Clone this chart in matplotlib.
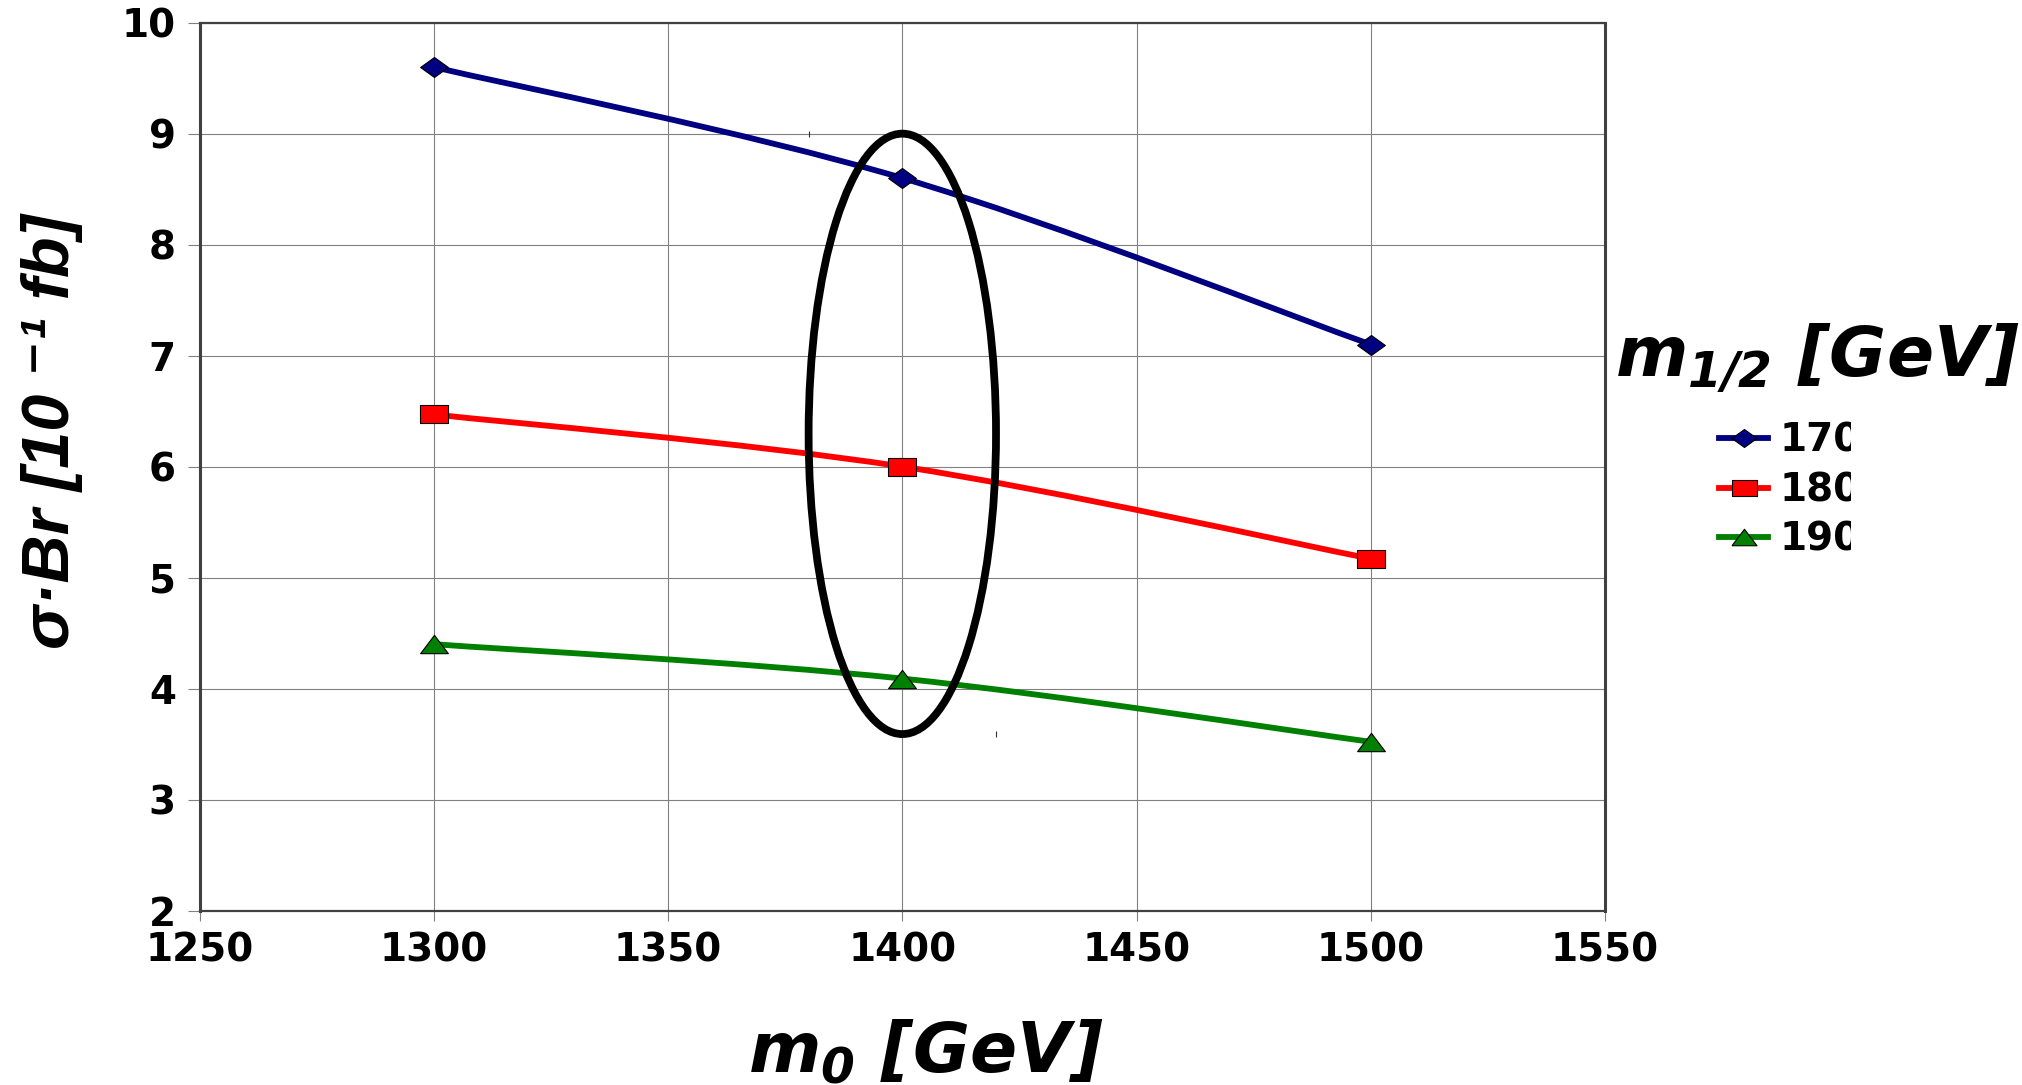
import numpy as np
import matplotlib
matplotlib.use('Agg')
import matplotlib.pyplot as plt
from matplotlib.path import Path
from matplotlib.patches import PathPatch, Ellipse
from matplotlib.lines import Line2D
from matplotlib.transforms import Bbox, TransformedBbox

# data
m0 = [1300, 1400, 1500]
m_half = ['170', '180', '190']
sigma_170 = [9.6, 8.6, 7.1]
sigma_180 = [6.47, 6.0, 5.17]
sigma_190 = [4.4, 4.09, 3.52]
x_ticks = [1250, 1300, 1350, 1400, 1450, 1500, 1550]
y_ticks = [2, 3, 4, 5, 6, 7, 8, 9, 10]

colors = ['#000080', '#ff0000', '#008000']
diamond = [(-1, 0), (0, 0.72), (1, 0), (0, -0.72), (-1, 0)]
square = [(-1, -0.66), (1, -0.66), (1, 0.66), (-1, 0.66), (-1, -0.66)]
triangle = [(-1, -0.66), (0, 0.66), (1, -0.66), (-1, -0.66)]
markers = [diamond, square, triangle]

plt.rcParams['mathtext.fontset'] = 'custom'
plt.rcParams['mathtext.it'] = 'DejaVu Sans:bold:italic'
plt.rcParams['mathtext.rm'] = 'DejaVu Sans:bold:italic'
plt.rcParams['mathtext.bf'] = 'DejaVu Sans:bold:italic'


def smooth_path(x, y):
    # Catmull-Rom style bezier through the points (like a spreadsheet "smoothed line")
    pts = np.column_stack([x, y]).astype(float)
    ext = np.vstack([pts[0], pts, pts[-1]])
    verts = [pts[0]]
    codes = [Path.MOVETO]
    for i in range(len(pts) - 1):
        p0, p1, p2, p3 = ext[i], ext[i + 1], ext[i + 2], ext[i + 3]
        verts += [p1 + (p2 - p0) / 6, p2 - (p3 - p1) / 6, p2]
        codes += [Path.CURVE4] * 3
    return Path(verts, codes)


fig = plt.figure(figsize=(20.22, 10.85), dpi=100)
ax = fig.add_axes([0.0987, 0.1608, 0.6951, 0.8183])

ax.set_xlim(1250, 1550)
ax.set_ylim(2, 10)
ax.set_xticks(x_ticks)
ax.set_yticks(y_ticks)
ax.grid(True, color='#808080', lw=0.8)
ax.set_axisbelow(True)

for side in ['left', 'right']:
    ax.spines[side].set_linewidth(2.2)
for side in ['top', 'bottom']:
    ax.spines[side].set_linewidth(1.6)
for sp in ax.spines.values():
    sp.set_color('#404040')

ax.tick_params(axis='x', direction='out', length=7, width=0.8, color='#808080', pad=8)
ax.tick_params(axis='y', direction='out', length=9, width=0.8, color='#808080', pad=8)
for lab in ax.get_xticklabels() + ax.get_yticklabels():
    lab.set_fontfamily('DejaVu Sans')
    lab.set_fontweight('bold')
    lab.set_fontsize(28)

series = [sigma_170, sigma_180, sigma_190]
handles = []
for ys, c, mk in zip(series, colors, markers):
    ax.add_patch(PathPatch(smooth_path(m0, ys), fill=False, edgecolor=c, lw=4.2, zorder=3))
    ax.plot(m0, ys, linestyle='none', marker=mk, markersize=20, markerfacecolor=c,
            markeredgecolor='black', markeredgewidth=0.8, zorder=4)
    handles.append(Line2D([0], [0], color=c, lw=4.2, marker=mk, markersize=18,
                          markerfacecolor=c, markeredgecolor='black', markeredgewidth=0.8))

# hand-drawn ellipse around m0 = 1400
ell = Ellipse((1400, 6.295), width=40, height=5.41, fill=False, edgecolor='black', lw=5.6, zorder=5)
ax.add_patch(ell)
ax.plot([1380, 1420], [9.0, 3.59], linestyle='none', marker='|', markersize=4,
        color='#303030', markeredgewidth=0.8, zorder=5)

fig.text(748 / 2022, 13 / 1085, r'$m_0$ [GeV]', fontsize=50, fontweight='bold',
         fontstyle='italic', family='DejaVu Sans', ha='left', va='baseline')
fig.text(52 / 2022, 1 - 432 / 1085, 'σ·Br [10 ⁻¹ fb]', fontsize=48, fontweight='bold',
         fontstyle='italic', family=['Liberation Sans', 'DejaVu Sans'],
         rotation=90, ha='center', va='center')
fig.text(1615 / 2022, 1 - 378 / 1085, r'$m_{1/2}$ [GeV]', fontsize=50, fontweight='bold',
         fontstyle='italic', family='DejaVu Sans', ha='left', va='baseline')

leg = fig.legend(handles, m_half, loc='upper left', bbox_to_anchor=(1719 / 2022, 1 - 422 / 1085),
                 frameon=False, prop=dict(family='DejaVu Sans', weight='bold', size=28),
                 handlelength=1.26, handletextpad=0.31, labelspacing=0.29,
                 borderpad=0, borderaxespad=0)
# the legend labels are cut off on the right in the original
clip = TransformedBbox(Bbox([[0, 0], [1851 / 2022, 1]]), fig.transFigure)
for t in leg.get_texts():
    t.set_clip_box(clip)
    t.set_clip_on(True)

fig.savefig('out.png', dpi=100)
